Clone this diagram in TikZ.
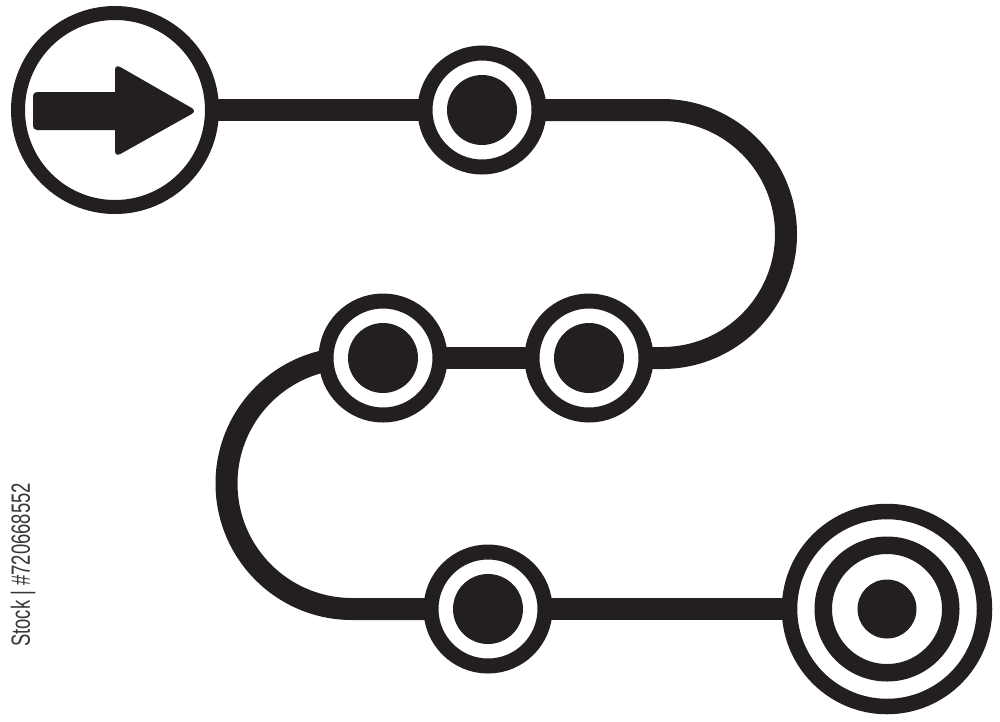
\documentclass[tikz,border=0pt]{standalone}
\usepackage{fontspec}
\usepackage{tikz}
\usetikzlibrary{backgrounds}
\newfontfamily\stockfont{Liberation Sans}
\definecolor{ink}{RGB}{35,31,32}

\tikzset{
    track/.style={draw=ink, line width=0.44cm},
    stopring/.style={circle, draw=ink, line width=0.3cm, fill=white, inner sep=0pt,
        minimum size=2.28cm,
        path picture={\fill[ink] (path picture bounding box.center) circle[radius=0.7cm];}},
    startring/.style={circle, draw=ink, line width=0.28cm, fill=white, inner sep=0pt,
        minimum size=3.88cm},
    goalring/.style={circle, draw=ink, line width=0.31cm, fill=white, inner sep=0pt,
        minimum size=3.9cm,
        path picture={
            \draw[ink, line width=0.35cm] (path picture bounding box.center) circle[radius=1.275cm];
            \fill[ink] (path picture bounding box.center) circle[radius=0.59cm];}}
}

\begin{document}
\begin{tikzpicture}
    \useasboundingbox (0,0) rectangle (20,-14.42);
    % stops along the route
    \node[startring] (start) at (2.30,-2.20) {};
    \node[stopring] (stopA) at (9.64,-2.20) {};
    \node[stopring] (stopB) at (7.66,-7.16) {};
    \node[stopring] (stopC) at (11.78,-7.16) {};
    \node[stopring] (stopD) at (9.76,-12.18) {};
    \node[goalring] (goal) at (17.74,-12.18) {};
    % arrow in the start circle
    \fill[ink, rounded corners=0.08cm] ([shift={(-1.64cm,0.36cm)}]start.center)
        rectangle ([shift={(0.2cm,-0.4cm)}]start.center);
    \fill[ink, rounded corners=0.12cm] ([shift={(0cm,0.92cm)}]start.center)
        -- ([shift={(1.64cm,-0.02cm)}]start.center)
        -- ([shift={(0cm,-0.94cm)}]start.center) -- cycle;
    % the route itself
    \begin{pgfonlayer}{background}
        \draw[track] (start.center) -- (stopA.center);
        \draw[track] (stopA.center) -- (13.24,-2.20)
            arc[start angle=90, end angle=-90, radius=2.48cm] -- (stopC.center);
        \draw[track] (stopC.center) -- (stopB.center);
        \draw[track] (stopB.center) -- (7.04,-7.16)
            arc[start angle=90, end angle=270, radius=2.51cm] -- (stopD.center);
        \draw[track] (stopD.center) -- (goal.center);
    \end{pgfonlayer}
    \node[rotate=90, text=ink!90, inner sep=0pt] (stockid) at (0.46,-11.3)
        {\stockfont\fontsize{15}{15}\selectfont\scalebox{0.7}[1]{Stock | \#720668552}};
\end{tikzpicture}
\end{document}
